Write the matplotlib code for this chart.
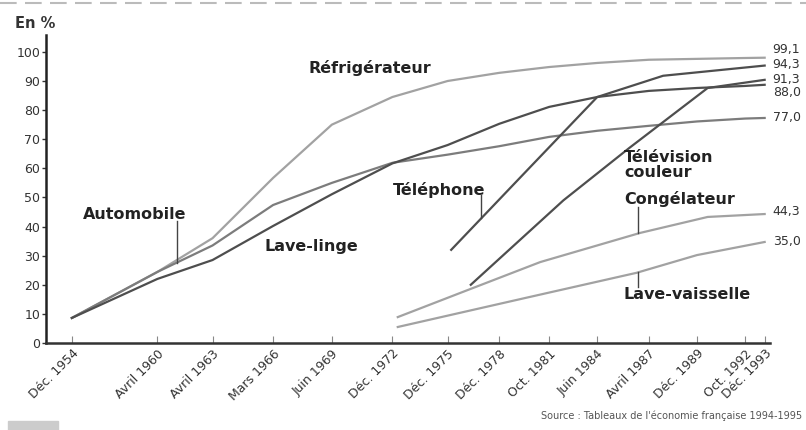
import matplotlib
matplotlib.use("Agg")
import matplotlib.pyplot as plt
import numpy as np

plt.rcParams["font.family"] = ["DejaVu Sans"]

# survey dates (decimal years) and their labels
dates = [1954.9, 1959.7, 1962.8, 1966.2, 1969.5, 1972.9, 1976.0, 1978.9,
         1981.7, 1984.4, 1987.3, 1990.0, 1992.7, 1993.8]
date_labels = ["Déc. 1954", "Avril 1960", "Avril 1963", "Mars 1966", "Juin 1969",
               "Déc. 1972", "Déc. 1975", "Déc. 1978", "Oct. 1981", "Juin 1984",
               "Avril 1987", "Déc. 1989", "Oct. 1992", "Déc. 1993"]

refrigerateur = [8.6, 24.4, 36.0, 56.7, 75.0, 84.5, 90.0, 92.8, 94.8, 96.2, 97.3, 97.6, 97.9, 98.0]
automobile = [8.6, 24.4, 33.5, 47.4, 55.0, 61.9, 64.7, 67.6, 70.8, 72.9, 74.6, 76.1, 77.1, 77.3]
lave_linge = [8.6, 22.0, 28.5, 40.2, 51.1, 61.7, 68.0, 75.3, 81.1, 84.5, 86.6, 87.6, 88.3, 88.7]

telephone_dates = [1976.2, 1980.1, 1984.4, 1988.1, 1993.8]
telephone = [32.0, 57.0, 84.5, 91.8, 95.3]

tv_dates = [1977.3, 1982.5, 1986.2, 1990.6, 1993.8]
tv_couleur = [20.0, 49.0, 67.0, 87.6, 90.4]

congel_dates = [1973.2, 1977.3, 1981.2, 1986.8, 1990.6, 1993.8]
congelateur = [8.9, 18.6, 27.8, 37.8, 43.3, 44.3]

vaisselle_dates = [1973.2, 1980.6, 1986.6, 1990.0, 1993.8]
lave_vaisselle = [5.5, 15.8, 24.1, 30.2, 34.7]

end_labels = ["99,1", "94,3", "91,3", "88,0", "77,0", "44,3", "35,0"]

fig = plt.figure(figsize=(8.06, 4.30), dpi=100)
ax = fig.add_axes([46 / 806, 87 / 430, 724 / 806, 308 / 430])

light = "#a2a2a2"
mid = "#7c7c7c"
dark = "#4e4e4e"
lw = 1.6

ax.plot(dates, refrigerateur, color=light, linewidth=lw)
ax.plot(dates, automobile, color=mid, linewidth=lw)
ax.plot(dates, lave_linge, color=dark, linewidth=lw)
ax.plot(telephone_dates, telephone, color=dark, linewidth=lw)
ax.plot(tv_dates, tv_couleur, color=dark, linewidth=lw)
ax.plot(congel_dates, congelateur, color=light, linewidth=lw)
ax.plot(vaisselle_dates, lave_vaisselle, color=light, linewidth=lw)

ax.set_xlim(1953.45, 1994.1)
ax.set_ylim(0, 105.8)
ax.set_yticks(range(0, 101, 10))
ax.tick_params(axis="y", length=3, width=1, pad=1, labelsize=9, colors="#333333")
ax.set_xticks(dates)
ax.set_xticklabels(date_labels, rotation=45, ha="right", va="top",
                   rotation_mode="anchor", fontsize=9, color="#333333")
ax.tick_params(axis="x", direction="in", length=5, color="#888888", pad=3)

for side in ["top", "right"]:
    ax.spines[side].set_visible(False)
ax.spines["left"].set_color("#222222")
ax.spines["left"].set_linewidth(1.8)
ax.spines["bottom"].set_color("#333333")
ax.spines["bottom"].set_linewidth(1.8)

# series names
txt = dict(fontsize=11.5, fontweight="bold", color="#222222", va="center", ha="left")
ax.text(1968.2, 94.5, "Réfrigérateur", **txt)
ax.text(1955.5, 44.3, "Automobile", **txt)
ax.text(1965.7, 33.0, "Lave-linge", **txt)
ax.text(1972.9, 52.6, "Téléphone", **txt)
ax.text(1985.9, 61.2, "Télévision\ncouleur", linespacing=1.05, **txt)
ax.text(1985.9, 49.5, "Congélateur", **txt)
ax.text(1985.9, 16.5, "Lave-vaisselle", **txt)

# pointer lines to the curves
px = 1960.8
ax.plot([px, px], [41.9, np.interp(px, dates, automobile)], color="#444444", linewidth=1)
px = 1977.9
ax.plot([px, px], [50.9, np.interp(px, telephone_dates, telephone)], color="#444444", linewidth=1)
px = 1986.7
ax.plot([px, px], [46.7, np.interp(px, congel_dates, congelateur)], color="#444444", linewidth=1)
ax.plot([px, px], [19.2, np.interp(px, vaisselle_dates, lave_vaisselle)], color="#444444", linewidth=1)

# end values
label_y = [100.7, 95.5, 90.4, 85.9, 77.3, 45.0, 34.7]
for lab, yy in zip(end_labels, label_y):
    ax.text(1994.25, yy, lab, fontsize=9, color="#333333", va="center", ha="left", clip_on=False)

fig.text(15 / 806, 1 - 23 / 430, "En %", fontsize=10.5, fontweight="bold", color="#333333", va="center")
fig.text(0.995, 1 - 416 / 430, "Source : Tableaux de l'économie française 1994-1995",
         fontsize=7, color="#555555", ha="right", va="center")

# frame decorations
fig.add_artist(plt.Line2D([0, 1], [1 - 3 / 430, 1 - 3 / 430], color="#bbbbbb",
                          linewidth=1.5, linestyle=(0, (8, 4)), transform=fig.transFigure))
fig.add_artist(plt.Rectangle((8 / 806, 0), 50 / 806, 9 / 430, color="#cccccc",
                             transform=fig.transFigure))

fig.savefig("out.png", dpi=100, facecolor="white")
